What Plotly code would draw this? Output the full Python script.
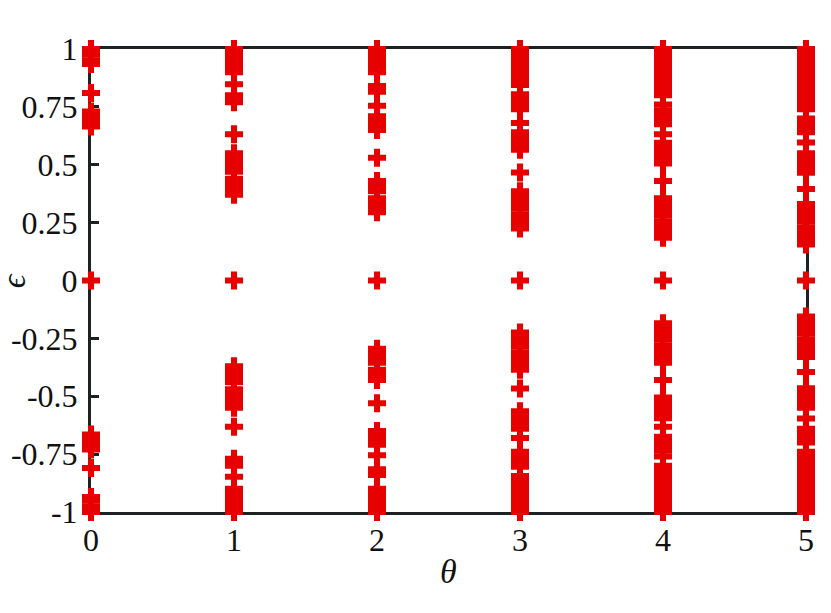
import plotly.graph_objects as go

theta_values = [0, 1, 2, 3, 4, 5]

eps_theta0 = [1.0, 0.975, 0.95, 0.935, 0.81, 0.73, 0.715, 0.70, 0.685, 0.665, 0.0,
              -0.665, -0.685, -0.70, -0.715, -0.73, -0.81, -0.935, -0.95, -0.975, -1.0]

eps_theta1 = [1.0, 0.985, 0.97, 0.955, 0.94, 0.925, 0.91, 0.90, 0.848,
              0.80, 0.785, 0.77, 0.632,
              0.55, 0.535, 0.52, 0.505, 0.49, 0.47, 0.44, 0.425, 0.41, 0.395, 0.38, 0.37,
              0.0,
              -0.37, -0.38, -0.395, -0.41, -0.425, -0.44, -0.47, -0.49, -0.505, -0.52, -0.535, -0.55,
              -0.632, -0.77, -0.785, -0.80, -0.848,
              -0.90, -0.91, -0.925, -0.94, -0.955, -0.97, -0.985, -1.0]

eps_theta2 = [1.0, 0.985, 0.97, 0.955, 0.94, 0.925, 0.91, 0.90,
              0.84, 0.825, 0.815, 0.755,
              0.71, 0.695, 0.68, 0.665, 0.65, 0.53,
              0.43, 0.415, 0.40, 0.385, 0.355, 0.34, 0.325, 0.31, 0.295,
              0.0,
              -0.295, -0.31, -0.325, -0.34, -0.355, -0.385, -0.40, -0.415, -0.43,
              -0.53, -0.65, -0.665, -0.68, -0.695, -0.71,
              -0.755, -0.815, -0.825, -0.84,
              -0.90, -0.91, -0.925, -0.94, -0.955, -0.97, -0.985, -1.0]

eps_theta3 = [1.0, 0.985, 0.97, 0.955, 0.94, 0.925, 0.91, 0.89, 0.875, 0.86, 0.845,
              0.805, 0.78, 0.765, 0.75, 0.74, 0.68,
              0.64, 0.625, 0.61, 0.595, 0.58, 0.565, 0.466,
              0.385, 0.37, 0.355, 0.34, 0.325, 0.31, 0.285, 0.27, 0.255, 0.24, 0.225,
              0.0,
              -0.225, -0.24, -0.255, -0.27, -0.285, -0.31, -0.325, -0.34, -0.355, -0.37, -0.385,
              -0.466, -0.565, -0.58, -0.595, -0.61, -0.625, -0.64,
              -0.68, -0.74, -0.75, -0.765, -0.78, -0.805,
              -0.845, -0.86, -0.875, -0.89, -0.91, -0.925, -0.94, -0.955, -0.97, -0.985, -1.0]

eps_theta4 = [1.0, 0.985, 0.97, 0.955, 0.94, 0.925, 0.91, 0.895, 0.88, 0.87,
              0.845, 0.83, 0.815, 0.80, 0.76,
              0.735, 0.72, 0.705, 0.69, 0.675, 0.632,
              0.595, 0.58, 0.565, 0.55, 0.535, 0.52, 0.505, 0.43,
              0.355, 0.34, 0.325, 0.31, 0.295, 0.28, 0.255, 0.24, 0.225, 0.21, 0.195, 0.185,
              0.0,
              -0.185, -0.195, -0.21, -0.225, -0.24, -0.255, -0.28, -0.295, -0.31, -0.325, -0.34, -0.355,
              -0.43, -0.505, -0.52, -0.535, -0.55, -0.565, -0.58, -0.595,
              -0.632, -0.675, -0.69, -0.705, -0.72, -0.735, -0.76,
              -0.80, -0.815, -0.83, -0.845,
              -0.87, -0.88, -0.895, -0.91, -0.925, -0.94, -0.955, -0.97, -0.985, -1.0]

eps_theta5 = [1.0, 0.985, 0.97, 0.955, 0.94, 0.925, 0.91, 0.895, 0.88, 0.87,
              0.845, 0.83, 0.815, 0.80, 0.78, 0.765, 0.75, 0.74,
              0.70, 0.685, 0.67, 0.655, 0.64, 0.596,
              0.55, 0.535, 0.52, 0.505, 0.49, 0.475, 0.465, 0.395,
              0.33, 0.315, 0.30, 0.285, 0.27, 0.255, 0.23, 0.215, 0.20, 0.185, 0.17, 0.155,
              0.0,
              -0.155, -0.17, -0.185, -0.20, -0.215, -0.23, -0.255, -0.27, -0.285, -0.30, -0.315, -0.33,
              -0.395, -0.465, -0.475, -0.49, -0.505, -0.52, -0.535, -0.55, -0.596,
              -0.64, -0.655, -0.67, -0.685, -0.70,
              -0.74, -0.75, -0.765, -0.78, -0.80, -0.815, -0.83, -0.845,
              -0.87, -0.88, -0.895, -0.91, -0.925, -0.94, -0.955, -0.97, -0.985, -1.0]

eps_by_theta = [eps_theta0, eps_theta1, eps_theta2, eps_theta3, eps_theta4, eps_theta5]

y_tickvals = [-1, -0.75, -0.5, -0.25, 0, 0.25, 0.5, 0.75, 1]
y_ticktext = ["-1", "-0.75", "-0.5", "-0.25", "0", "0.25", "0.5", "0.75", "1"]
x_tickvals = [0, 1, 2, 3, 4, 5]
x_ticktext = ["0", "1", "2", "3", "4", "5"]

xs, ys = [], []
for th, vals in zip(theta_values, eps_by_theta):
    xs.extend([th] * len(vals))
    ys.extend(vals)

fig = go.Figure()
fig.add_trace(go.Scatter(
    x=xs, y=ys, mode="markers", cliponaxis=False,
    marker=dict(symbol="cross", size=15, color="rgb(230,0,0)", line=dict(width=0)),
    showlegend=False, hoverinfo="skip",
))

font = dict(family="Liberation Serif, Times New Roman, serif", size=32, color="#111111")
frame = "#1e2124"

fig.update_layout(
    width=831, height=613,
    margin=dict(l=83, r=33, t=41, b=109),
    plot_bgcolor="white", paper_bgcolor="white",
    font=font,
    xaxis=dict(range=[0, 5], tickvals=x_tickvals, ticktext=x_ticktext, automargin=False,
               showgrid=False, zeroline=False, showline=True, mirror=True,
               linecolor=frame, linewidth=3, ticks="inside", ticklen=8, tickwidth=3,
               tickcolor=frame, layer="below traces", ticklabelstandoff=-2, tickfont=font),
    yaxis=dict(range=[-1, 1], tickvals=y_tickvals, ticktext=y_ticktext, automargin=False,
               showgrid=False, zeroline=False, showline=True, mirror="ticks",
               linecolor=frame, linewidth=3, ticks="inside", ticklen=8, tickwidth=3,
               tickcolor=frame, layer="below traces", ticklabelstandoff=4, tickfont=font),
    annotations=[
        dict(text="<i>θ</i>", xref="paper", yref="paper", x=0.5, y=-0.128,
             xanchor="center", yanchor="middle", showarrow=False,
             font=dict(family="Liberation Serif, serif", size=34, color="#111111")),
        dict(text="<i>ϵ</i>", xref="paper", yref="paper", x=-0.108, y=0.5,
             xanchor="center", yanchor="middle", showarrow=False, textangle=-90,
             font=dict(family="Liberation Serif, DejaVu Serif, serif", size=34, color="#111111")),
    ],
)

fig.write_html("out.html")
